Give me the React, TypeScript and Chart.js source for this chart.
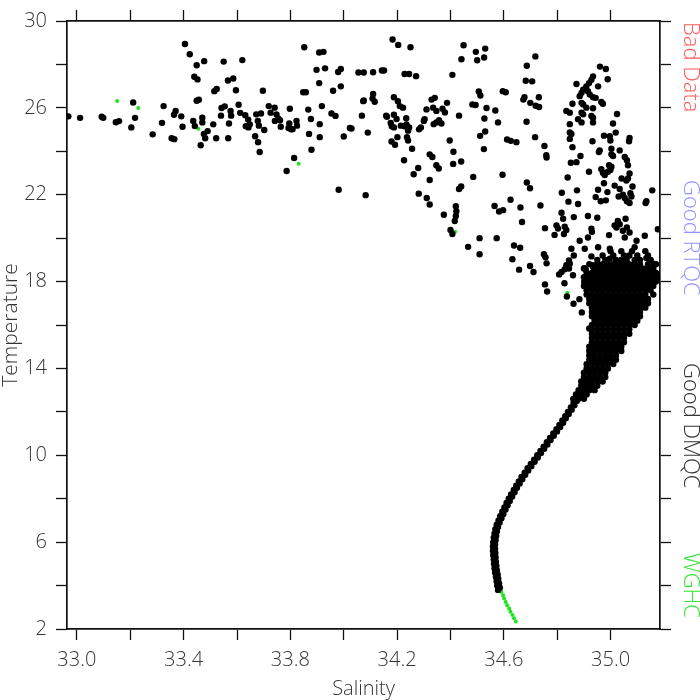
import React, { useEffect, useRef } from "react";
import { Chart, registerables } from "chart.js";

Chart.register(...registerables);

const FONT = "'Open Sans', 'DejaVu Sans', sans-serif";

const salinityMin = 32.963;
const salinityMax = 35.185;
const temperatureMin = 2;
const temperatureMax = 30;

const xTickValues = [33.0, 33.2, 33.4, 33.6, 33.8, 34.0, 34.2, 34.4, 34.6, 34.8, 35.0];
const xLabelValues = [33.0, 33.4, 33.8, 34.2, 34.6, 35.0];
const yTickValues = [2, 4, 6, 8, 10, 12, 14, 16, 18, 20, 22, 24, 26, 28, 30];
const yLabelValues = [2, 6, 10, 14, 18, 22, 26, 30];

const flagLabels = ["Bad Data", "Good RTQC", "Good DMQC", "WGHC"];
const flagColors = ["#ff5a5a", "#9494ff", "#333333", "#33e833"];

// scattered near-surface observations [salinity, temperature]
const scatterPoints: [number, number][] = [
  [32.968, 25.61], [33.012, 25.54], [33.093, 25.59], [33.099, 25.54], [33.146, 25.34], [33.158, 25.39],
  [33.211, 26.25], [33.218, 25.54], [33.204, 25.1], [33.284, 24.78], [33.319, 25.31], [33.325, 26.08],
  [33.364, 25.68], [33.37, 25.86], [33.391, 25.61], [33.396, 25.13], [33.355, 24.6], [33.365, 24.56],
  [33.405, 28.94], [33.423, 28.47], [33.449, 27.96], [33.477, 28.15], [33.44, 27.43], [33.452, 27.31],
  [33.449, 26.33], [33.457, 26.37], [33.436, 25.4], [33.442, 25.16], [33.47, 25.55], [33.47, 25.33],
  [33.476, 24.8], [33.481, 24.6], [33.49, 24.93], [33.464, 24.28], [33.511, 25.24], [33.522, 24.6],
  [33.515, 26.77], [33.524, 26.87], [33.55, 28.13], [33.62, 28.2], [33.566, 27.26], [33.586, 27.35],
  [33.596, 26.81], [33.542, 25.99], [33.554, 26.07], [33.54, 25.64], [33.576, 25.86], [33.578, 25.64],
  [33.57, 25.28], [33.567, 24.6], [33.606, 26.14], [33.612, 25.77], [33.631, 25.66], [33.642, 25.46],
  [33.648, 25.24], [33.633, 25.15], [33.643, 25.1], [33.672, 25.7], [33.69, 25.74], [33.678, 25.4],
  [33.682, 25.18], [33.702, 24.98], [33.668, 24.69], [33.679, 24.42], [33.685, 23.97], [33.697, 26.79],
  [33.719, 26.08], [33.741, 26.01], [33.726, 25.78], [33.748, 25.7], [33.754, 25.51], [33.742, 25.4],
  [33.761, 25.43], [33.764, 25.13], [33.798, 25.96], [33.796, 25.28], [33.793, 25.07], [33.803, 25.01],
  [33.823, 25.4], [33.825, 25.18], [33.814, 23.69], [33.786, 23.09],
  [33.852, 28.79], [33.908, 28.55], [33.924, 28.58], [33.898, 27.75], [33.93, 27.82], [33.979, 27.65],
  [33.989, 27.79], [33.908, 27.14], [33.96, 26.79], [33.989, 26.99], [33.848, 26.72], [33.858, 26.72],
  [33.867, 25.92], [33.918, 26.08], [33.808, 25.02], [33.877, 25.49], [33.91, 25.25], [33.87, 24.8],
  [33.91, 24.65], [33.879, 24.07], [33.954, 25.74], [33.969, 25.63], [34.023, 25.07], [34.029, 25.05],
  [34.0, 24.68], [34.055, 27.63], [34.075, 27.63], [34.11, 27.64], [34.143, 27.72], [34.151, 27.72],
  [34.073, 26.31], [34.075, 26.34], [34.11, 26.64], [34.116, 26.28], [34.108, 26.43], [34.068, 25.64],
  [34.09, 24.86], [33.981, 22.23], [34.082, 21.98], [34.183, 29.15], [34.204, 28.9], [34.25, 28.79],
  [34.228, 27.56], [34.245, 27.56], [34.271, 27.46], [34.188, 26.49], [34.203, 26.31], [34.21, 26.08],
  [34.222, 26.01], [34.159, 25.64], [34.162, 25.59], [34.188, 25.68], [34.198, 25.49], [34.234, 25.52],
  [34.176, 25.3], [34.18, 25.15], [34.188, 25.1], [34.214, 25.18], [34.228, 25.15], [34.235, 25.24],
  [34.241, 24.95], [34.245, 25.1], [34.282, 25.01], [34.289, 25.1], [34.3, 25.4], [34.303, 25.48],
  [34.201, 24.65], [34.179, 24.45], [34.192, 24.3], [34.237, 24.65], [34.241, 24.5], [34.256, 24.12],
  [34.226, 23.59], [34.262, 22.94], [34.279, 23.23], [34.281, 22.05], [34.311, 21.85], [34.322, 21.55],
  [34.322, 22.68], [34.322, 23.86], [34.332, 23.74], [34.347, 23.36], [34.356, 23.21], [34.31, 25.93],
  [34.329, 26.38], [34.341, 26.46], [34.335, 26.01], [34.347, 25.86], [34.37, 25.96], [34.379, 25.79],
  [34.387, 26.23], [34.337, 25.25], [34.347, 25.33], [34.366, 25.28], [34.357, 25.43], [34.407, 27.52],
  [34.432, 25.64], [34.397, 24.5], [34.411, 23.98], [34.41, 23.42], [34.44, 23.53], [34.432, 22.26],
  [34.44, 22.38], [34.42, 21.47], [34.422, 21.24], [34.42, 21.02], [34.416, 20.79], [34.4, 20.38],
  [34.407, 20.19], [34.375, 21.08], [34.466, 19.6], [34.509, 20.0], [34.509, 19.26], [34.449, 28.88],
  [34.441, 28.24], [34.495, 28.58], [34.5, 28.19], [34.53, 28.73], [34.526, 28.32], [34.506, 26.75],
  [34.512, 26.57], [34.482, 26.16], [34.494, 26.13], [34.535, 25.99], [34.527, 25.51], [34.568, 25.88],
  [34.578, 25.33], [34.511, 24.71], [34.53, 24.91], [34.525, 24.1], [34.596, 26.77], [34.607, 26.72],
  [34.612, 24.54], [34.626, 24.48], [34.647, 24.42], [34.595, 22.92], [34.485, 22.82], [34.686, 27.94],
  [34.718, 28.37], [34.682, 27.25], [34.706, 27.22], [34.673, 26.38], [34.677, 26.49], [34.699, 26.23],
  [34.719, 26.1], [34.732, 26.04], [34.731, 26.49], [34.685, 25.36], [34.717, 24.65], [34.752, 24.24],
  [34.759, 23.82], [34.76, 23.71], [34.686, 22.56], [34.698, 22.3], [34.565, 21.48], [34.582, 21.23],
  [34.597, 21.29], [34.625, 21.77], [34.662, 21.41], [34.668, 20.74], [34.737, 21.5], [34.754, 20.46],
  [34.573, 20.0], [34.638, 19.66], [34.661, 19.56], [34.632, 19.03], [34.657, 18.55], [34.698, 18.72],
  [34.711, 18.44], [34.75, 19.26], [34.756, 19.12], [34.76, 18.84], [34.754, 17.87], [34.762, 17.54],
  [34.96, 27.9], [34.982, 27.79], [34.989, 27.32], [34.872, 27.1], [34.934, 27.45], [34.928, 27.29],
  [34.919, 27.14], [34.909, 26.99], [34.897, 26.84], [34.891, 26.69], [34.953, 26.99], [34.915, 26.77],
  [34.922, 26.61], [34.934, 26.49], [34.944, 26.46], [34.884, 26.54], [34.891, 26.23], [34.897, 26.16],
  [34.965, 26.27], [34.971, 26.19], [34.857, 26.19], [34.834, 25.86], [34.847, 25.78], [34.909, 26.01],
  [34.934, 25.98], [34.891, 25.78], [34.897, 25.7], [34.928, 25.63], [34.934, 25.55], [34.934, 25.33],
  [34.878, 25.48], [34.891, 25.33], [35.024, 25.72], [34.847, 25.25], [34.847, 24.87], [34.853, 24.8],
  [34.847, 24.57], [35.009, 25.28], [35.019, 24.86], [34.975, 24.72], [34.997, 24.69], [34.999, 24.5],
  [34.932, 24.46], [35.071, 24.61], [35.069, 24.46], [34.857, 24.19], [35.003, 24.12], [34.959, 24.04],
  [34.956, 23.97], [35.034, 24.04], [35.003, 23.86], [35.009, 23.78], [35.053, 23.74], [35.061, 23.59],
  [35.065, 23.36], [34.887, 23.78], [34.851, 23.47], [34.872, 23.5], [34.919, 23.06], [34.965, 23.18],
  [34.971, 23.01], [34.978, 22.91], [34.99, 23.06], [34.999, 23.14], [35.003, 23.29], [34.994, 23.36],
  [35.071, 22.98], [35.065, 22.75], [35.059, 22.65], [35.041, 22.75], [34.839, 22.79], [34.975, 22.53],
  [35.015, 22.42], [35.034, 22.26], [35.082, 22.38], [34.953, 22.23], [34.988, 22.12], [34.874, 22.2],
  [34.817, 22.09], [35.03, 21.92], [35.046, 22.0], [35.053, 21.85], [35.061, 21.7], [35.071, 21.62],
  [35.078, 21.92], [35.074, 22.07], [34.944, 21.89], [34.963, 21.7], [34.982, 21.74], [35.156, 22.2],
  [35.131, 21.62], [35.134, 21.7], [34.842, 21.68], [34.878, 21.57], [34.816, 21.17], [34.822, 20.89],
  [34.862, 20.97], [34.915, 21.02], [34.95, 20.94], [34.797, 20.59], [34.803, 20.44], [34.828, 20.53],
  [34.834, 20.38], [34.928, 20.44], [34.93, 20.29], [35.015, 20.59], [35.027, 20.79], [35.034, 20.64],
  [35.022, 20.49], [35.056, 20.89], [35.061, 20.49], [35.071, 20.26], [35.177, 20.41], [34.79, 20.15],
  [34.825, 20.19], [34.915, 20.03], [34.884, 19.88], [34.994, 20.14], [35.046, 20.34], [35.053, 20.03],
  [35.128, 20.11], [35.097, 19.88], [35.09, 19.58], [34.853, 19.51], [34.862, 19.2], [34.844, 18.97],
  [34.903, 19.51], [34.928, 19.16], [34.953, 19.58], [34.834, 18.75], [34.828, 18.57], [34.844, 18.6],
  [34.807, 18.33], [34.816, 18.44], [34.859, 18.29], [34.903, 18.62], [34.934, 18.67], [34.997, 19.51],
  [34.997, 19.05], [34.827, 17.92], [34.836, 17.31], [34.861, 16.98], [34.883, 17.19], [34.892, 16.58],
  [34.92, 15.84], [35.134, 19.08], [35.161, 18.82], [34.847, 18.82], [34.934, 18.75], [34.907, 18.55],
  [34.901, 17.99],
];

// dense thermocline core: [temperature, salinities]
const coreRows: [number, number[]][] = [
  [19.4, [35.0, 35.04, 35.08, 35.13]],
  [19.2, [34.97, 35.01, 35.05, 35.07, 35.1, 35.14]],
  [19.0, [34.95, 34.98, 35.02, 35.04, 35.06, 35.09, 35.11, 35.15]],
  [18.8, [34.92, 34.95, 34.97, 34.99, 35.01, 35.03, 35.05, 35.07, 35.09, 35.11, 35.14, 35.17]],
  [18.6, [34.9, 34.94, 34.96, 34.98, 35.0, 35.02, 35.04, 35.06, 35.08, 35.1, 35.12, 35.14, 35.16]],
  [18.4, [34.91, 34.93, 34.95, 34.97, 34.99, 35.01, 35.03, 35.05, 35.07, 35.09, 35.11, 35.13, 35.15, 35.17]],
  [18.2, [34.9, 34.92, 34.94, 34.96, 34.98, 35.0, 35.02, 35.04, 35.06, 35.08, 35.1, 35.12, 35.14, 35.16, 35.18]],
  [18.0, [34.91, 34.93, 34.95, 34.97, 34.99, 35.01, 35.03, 35.05, 35.07, 35.09, 35.11, 35.13, 35.15, 35.17]],
  [17.8, [34.9, 34.92, 34.94, 34.96, 34.98, 35.0, 35.02, 35.04, 35.06, 35.08, 35.1, 35.12, 35.14, 35.16]],
  [17.6, [34.91, 34.93, 34.95, 34.97, 34.99, 35.01, 35.03, 35.05, 35.07, 35.09, 35.11, 35.13, 35.15]],
  [17.4, [34.91, 34.93, 34.95, 34.97, 34.99, 35.01, 35.03, 35.05, 35.07, 35.09, 35.11, 35.13, 35.16]],
  [17.2, [34.92, 34.94, 34.96, 34.98, 35.0, 35.02, 35.04, 35.06, 35.08, 35.1, 35.12, 35.14]],
  [17.0, [34.92, 34.94, 34.96, 34.98, 35.0, 35.02, 35.04, 35.06, 35.08, 35.1, 35.12, 35.14]],
  [16.8, [34.93, 34.95, 34.97, 34.99, 35.01, 35.03, 35.05, 35.07, 35.09, 35.11, 35.13]],
  [16.6, [34.93, 34.95, 34.97, 34.99, 35.01, 35.03, 35.05, 35.07, 35.09, 35.11]],
  [16.4, [34.93, 34.95, 34.97, 34.99, 35.01, 35.03, 35.05, 35.07, 35.09, 35.11]],
  [16.2, [34.94, 34.96, 34.98, 35.0, 35.02, 35.04, 35.06, 35.08, 35.1]],
  [16.0, [34.93, 34.95, 34.97, 34.99, 35.01, 35.03, 35.05, 35.07, 35.09]],
  [15.8, [34.93, 34.95, 34.97, 34.99, 35.01, 35.03, 35.05, 35.07]],
  [15.6, [34.93, 34.95, 34.97, 34.99, 35.01, 35.03, 35.05, 35.07]],
  [15.4, [34.93, 34.95, 34.97, 34.99, 35.01, 35.03, 35.05]],
  [15.2, [34.93, 34.95, 34.97, 34.99, 35.01, 35.03, 35.05]],
  [15.0, [34.92, 34.94, 34.96, 34.98, 35.0, 35.02, 35.04]],
  [14.8, [34.92, 34.94, 34.96, 34.98, 35.0, 35.02, 35.04]],
  [14.6, [34.92, 34.94, 34.96, 34.98, 35.0, 35.02]],
  [14.4, [34.92, 34.94, 34.96, 34.98, 35.0, 35.02]],
  [14.2, [34.91, 34.93, 34.95, 34.97, 34.99, 35.01]],
  [14.0, [34.91, 34.93, 34.95, 34.97, 34.99]],
  [13.8, [34.9, 34.92, 34.94, 34.96, 34.98]],
  [13.6, [34.9, 34.92, 34.94, 34.96, 34.98]],
  [13.4, [34.89, 34.91, 34.93, 34.95, 34.97]],
  [13.2, [34.89, 34.91, 34.93, 34.95]],
  [13.0, [34.88, 34.9, 34.92, 34.94]],
  [12.8, [34.87, 34.89, 34.91]],
  [12.6, [34.86, 34.88, 34.9]],
];

// deep profile curve [salinity, temperature]
const deepCurve: [number, number][] = [
  [34.578, 3.8], [34.585, 3.9], [34.575, 4.0], [34.582, 4.1], [34.573, 4.2], [34.579, 4.3], [34.57, 4.4],
  [34.577, 4.5], [34.567, 4.6], [34.574, 4.7], [34.565, 4.8], [34.572, 4.9], [34.563, 5.0], [34.57, 5.1],
  [34.562, 5.2], [34.569, 5.3], [34.56, 5.4], [34.568, 5.5], [34.559, 5.6], [34.567, 5.7], [34.559, 5.8],
  [34.567, 5.9], [34.56, 6.0], [34.569, 6.1], [34.562, 6.2], [34.571, 6.3], [34.565, 6.4], [34.574, 6.5],
  [34.568, 6.6], [34.578, 6.7], [34.573, 6.8], [34.584, 6.9], [34.58, 7.0], [34.591, 7.1], [34.586, 7.2],
  [34.598, 7.3], [34.594, 7.4], [34.606, 7.5], [34.602, 7.6], [34.614, 7.7], [34.61, 7.8], [34.622, 7.9],
  [34.618, 8.0], [34.631, 8.1], [34.627, 8.2], [34.64, 8.3], [34.637, 8.4], [34.649, 8.5], [34.646, 8.6],
  [34.659, 8.7], [34.656, 8.8], [34.669, 8.9], [34.666, 9.0], [34.68, 9.1], [34.678, 9.2], [34.691, 9.3],
  [34.689, 9.4], [34.703, 9.5], [34.701, 9.6], [34.715, 9.7], [34.713, 9.8], [34.727, 9.9], [34.725, 10.0],
  [34.739, 10.1], [34.737, 10.2], [34.751, 10.3], [34.749, 10.4], [34.763, 10.5], [34.761, 10.6],
  [34.775, 10.7], [34.773, 10.8], [34.787, 10.9], [34.785, 11.0], [34.799, 11.1], [34.797, 11.2],
  [34.811, 11.3], [34.808, 11.4], [34.822, 11.5], [34.819, 11.6], [34.832, 11.7], [34.83, 11.8],
  [34.843, 11.9], [34.84, 12.0], [34.854, 12.1], [34.851, 12.2], [34.864, 12.3], [34.861, 12.4],
  [34.873, 12.5], [34.87, 12.6], [34.883, 12.7], [34.88, 12.8],
];

// WGHC flagged points [salinity, temperature]
const wghcPoints: [number, number][] = [
  [33.151, 26.32], [33.23, 25.99], [33.455, 25.04], [33.831, 23.43], [34.417, 20.29], [34.838, 17.49],
  [34.591, 3.7], [34.597, 3.55], [34.601, 3.4], [34.607, 3.24], [34.612, 3.09], [34.62, 2.94],
  [34.625, 2.79], [34.632, 2.64], [34.638, 2.49], [34.645, 2.34],
];

const near = (a: number, list: number[]) => list.some((v) => Math.abs(v - a) < 1e-6);

const annotations = {
  id: "annotations",
  afterDraw(chart: any) {
    const { ctx, chartArea } = chart;
    ctx.save();
    ctx.font = `300 20px ${FONT}`;
    ctx.fillStyle = "#333333";
    ctx.textBaseline = "alphabetic";
    ctx.textAlign = "center";
    ctx.fillText("Salinity", (chartArea.left + chartArea.right) / 2, 695);
    ctx.save();
    ctx.font = `300 21px ${FONT}`;
    ctx.translate(17, (chartArea.top + chartArea.bottom) / 2);
    ctx.rotate(-Math.PI / 2);
    ctx.fillText("Temperature", 0, 0);
    ctx.restore();
    const starts = [22, 180, 363, 553];
    ctx.textAlign = "left";
    ctx.font = `300 22px ${FONT}`;
    flagLabels.forEach((label, i) => {
      ctx.save();
      ctx.fillStyle = flagColors[i];
      ctx.translate(684, starts[i]);
      ctx.rotate(Math.PI / 2);
      ctx.fillText(label, 0, 0);
      ctx.restore();
    });
    ctx.restore();
  },
};

export default function App() {
  const canvasRef = useRef<HTMLCanvasElement | null>(null);

  useEffect(() => {
    document.body.style.margin = "0";
    const canvas = canvasRef.current;
    if (!canvas) return;

    const blackData = [
      ...scatterPoints.map(([s, t]) => ({ x: s, y: t })),
      ...coreRows.flatMap(([t, ss]) => ss.map((s) => ({ x: s, y: t }))),
      ...deepCurve.map(([s, t]) => ({ x: s, y: t })),
    ];
    const greenData = wghcPoints.map(([s, t]) => ({ x: s, y: t }));

    const tickFont = { family: FONT, size: 20, weight: 300 as any };
    const gridCommon = {
      display: true,
      drawOnChartArea: false,
      drawTicks: true,
      tickLength: 11,
      tickWidth: 1.3,
      tickColor: "#111111",
    };
    const borderCommon = { display: true, color: "#111111", width: 1.7 };

    const chart = new Chart(canvas, {
      type: "scatter",
      data: {
        datasets: [
          {
            label: "Good DMQC",
            data: blackData,
            backgroundColor: "#000000",
            borderWidth: 0,
            pointRadius: 3.2,
            pointHoverRadius: 3.2,
          },
          {
            label: "WGHC",
            data: greenData,
            backgroundColor: "#1ee61e",
            borderWidth: 0,
            pointRadius: 2,
            pointHoverRadius: 2,
          },
        ],
      },
      options: {
        animation: false,
        responsive: false,
        events: [],
        layout: { padding: 0 },
        plugins: { legend: { display: false }, tooltip: { enabled: false } },
        scales: {
          x: {
            type: "linear",
            position: "bottom",
            min: salinityMin,
            max: salinityMax,
            grid: gridCommon,
            border: borderCommon,
            afterBuildTicks: (scale: any) => {
              scale.ticks = xTickValues.map((v) => ({ value: v }));
            },
            afterFit: (scale: any) => {
              scale.height = 71;
            },
            ticks: {
              autoSkip: false,
              maxRotation: 0,
              padding: 8,
              color: "#333333",
              font: tickFont,
              callback: (v: any) => (near(Number(v), xLabelValues) ? Number(v).toFixed(1) : ""),
            },
          },
          xTop: {
            type: "linear",
            position: "top",
            min: salinityMin,
            max: salinityMax,
            grid: gridCommon,
            border: borderCommon,
            afterBuildTicks: (scale: any) => {
              scale.ticks = xTickValues.map((v) => ({ value: v }));
            },
            afterFit: (scale: any) => {
              scale.height = 12;
            },
            ticks: { display: false, autoSkip: false },
          },
          y: {
            type: "linear",
            position: "left",
            min: temperatureMin,
            max: temperatureMax,
            grid: gridCommon,
            border: borderCommon,
            afterBuildTicks: (scale: any) => {
              scale.ticks = yTickValues.map((v) => ({ value: v }));
            },
            afterFit: (scale: any) => {
              scale.width = 67;
            },
            ticks: {
              autoSkip: false,
              padding: 9,
              color: "#333333",
              font: tickFont,
              callback: (v: any) => (near(Number(v), yLabelValues) ? String(Math.round(Number(v))) : ""),
            },
          },
          yRight: {
            type: "linear",
            position: "right",
            min: temperatureMin,
            max: temperatureMax,
            grid: gridCommon,
            border: borderCommon,
            afterBuildTicks: (scale: any) => {
              scale.ticks = yTickValues.map((v) => ({ value: v }));
            },
            afterFit: (scale: any) => {
              scale.width = 40;
            },
            ticks: { display: false, autoSkip: false },
          },
        },
      } as any,
      plugins: [annotations],
    });

    return () => chart.destroy();
  }, []);

  return (
    <div style={{ position: "absolute", left: 0, top: 0, width: 700, height: 700, background: "#ffffff" }}>
      <canvas ref={canvasRef} width={700} height={700} style={{ display: "block" }} />
    </div>
  );
}
